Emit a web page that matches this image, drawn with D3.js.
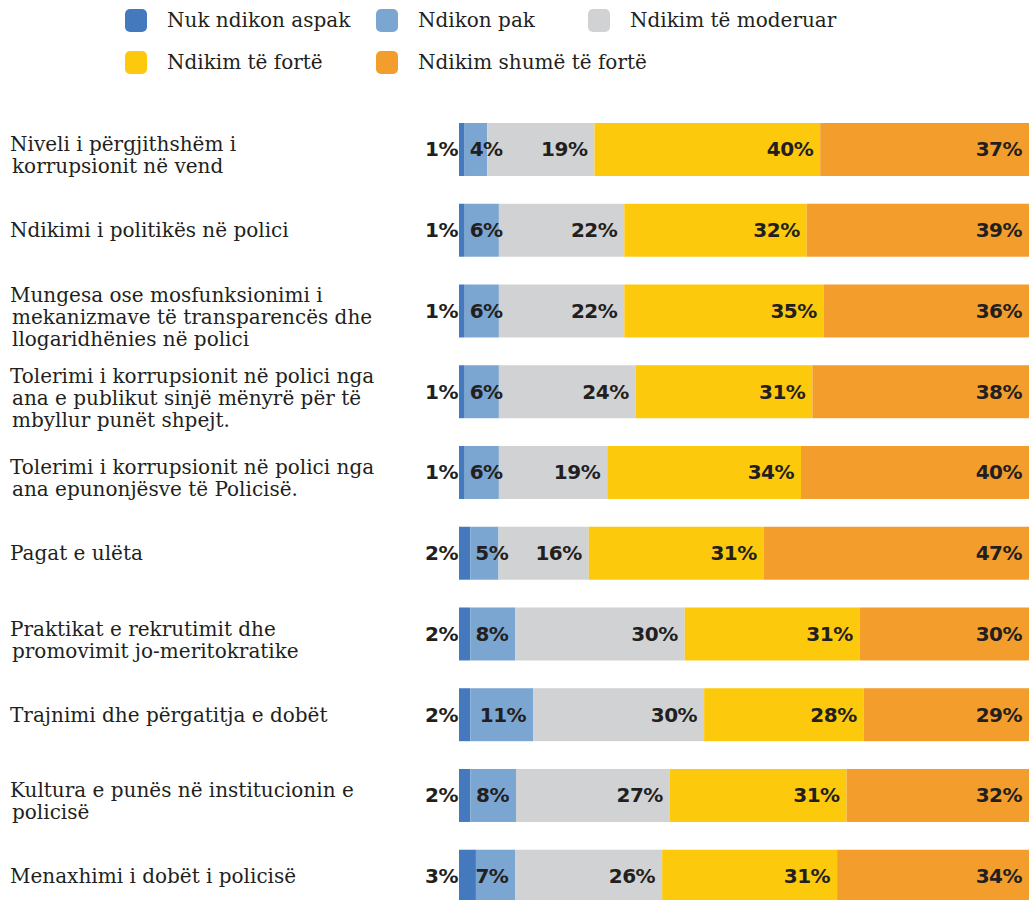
<!DOCTYPE html>
<html><head><meta charset="utf-8">
<script src="https://cdn.jsdelivr.net/npm/d3@7"></script>
<style>body{margin:0;background:#fff}svg{display:block}</style>
</head><body>
<svg id="c" width="1030" height="900"></svg>
<script>
const categories = [
  ["Niveli i përgjithshëm i", "korrupsionit në vend"],
  ["Ndikimi i politikës në polici"],
  ["Mungesa ose mosfunksionimi i", "mekanizmave të transparencës dhe", "llogaridhënies në polici"],
  ["Tolerimi i korrupsionit në polici nga", "ana e publikut sinjë mënyrë për të", "mbyllur punët shpejt."],
  ["Tolerimi i korrupsionit në polici nga", "ana epunonjësve të Policisë."],
  ["Pagat e ulëta"],
  ["Praktikat e rekrutimit dhe", "promovimit jo-meritokratike"],
  ["Trajnimi dhe përgatitja e dobët"],
  ["Kultura e punës në institucionin e", "policisë"],
  ["Menaxhimi i dobët i policisë"]
];
const seriesNames = ["Nuk ndikon aspak", "Ndikon pak", "Ndikim të moderuar", "Ndikim të fortë", "Ndikim shumë të fortë"];
const nukNdikon   = [1, 1, 1, 1, 1, 2, 2, 2, 2, 3];
const ndikonPak   = [4, 6, 6, 6, 6, 5, 8, 11, 8, 7];
const moderuar    = [19, 22, 22, 24, 19, 16, 30, 30, 27, 26];
const forte       = [40, 32, 35, 31, 34, 31, 31, 28, 31, 31];
const shumeForte  = [37, 39, 36, 38, 40, 47, 30, 29, 32, 34];
const colors = ["#4479be", "#7ba6d2", "#d1d2d4", "#fdc90c", "#f39d2c"];

const seriesValues = [nukNdikon, ndikonPak, moderuar, forte, shumeForte];
const keys = seriesNames;
const rows = categories.map((c, i) => {
  const o = {idx: i};
  keys.forEach((k, j) => o[k] = seriesValues[j][i]);
  return o;
});

const svg = d3.select("#c");
const x = d3.scaleLinear().domain([0, 1]).range([459, 1029]);
const y = d3.scaleBand().domain(d3.range(categories.length)).range([123, 902.7]).paddingInner(0.344).paddingOuter(0);
const color = d3.scaleOrdinal().domain(keys).range(colors);

const stack = d3.stack().keys(keys).offset(d3.stackOffsetExpand);
const stacked = stack(rows);

const labelFont = "'DejaVu Serif', serif";
const valFont = "'DejaVu Sans', sans-serif";

// bars
const g = svg.append("g");
stacked.forEach((s, si) => {
  g.selectAll(null).data(s).enter().append("rect")
    .attr("x", d => x(d[0]))
    .attr("y", d => y(d.data.idx))
    .attr("width", d => x(d[1]) - x(d[0]))
    .attr("height", y.bandwidth())
    .attr("fill", color(s.key));
});

// value labels
stacked.forEach((s, si) => {
  s.forEach(d => {
    const x0 = x(d[0]), x1 = x(d[1]);
    const cy = y(d.data.idx) + y.bandwidth() / 2;
    const t = svg.append("text")
      .attr("y", cy + 7)
      .attr("font-family", valFont)
      .attr("font-weight", "bold")
      .attr("font-size", 20)
      .attr("letter-spacing", -0.5)
      .attr("fill", "#231f20")
      .text(d.data[s.key] + "%");
    const w = t.node().getComputedTextLength();
    if (w + 4 <= x1 - x0) {
      t.attr("x", x1 - 7).attr("text-anchor", "end");
    } else if (si === 0) {
      t.attr("x", x0 - 1).attr("text-anchor", "end");
    } else {
      t.attr("x", x0 + 5).attr("text-anchor", "start");
    }
  });
});

// category labels
const lh = 22;
categories.forEach((lines, i) => {
  const cy = y(i) + y.bandwidth() / 2;
  const n = lines.length;
  const off = n > 1 ? 6 : 0;
  const first = cy + off - (n - 1) * lh / 2;
  const t = svg.append("text")
    .attr("font-family", labelFont)
    .attr("font-size", 20)
    .attr("fill", "#231f20");
  lines.forEach((ln, k) => {
    t.append("tspan").attr("x", k === 0 ? 10 : 12).attr("y", first + k * lh + 7).text(ln);
  });
});

// legend
const legendPos = [[125, 20], [376, 20], [588, 20], [125, 62], [376, 62]];
keys.forEach((k, i) => {
  const [lx, ly] = legendPos[i];
  svg.append("rect").attr("x", lx).attr("y", ly - 11).attr("width", 22).attr("height", 23)
    .attr("rx", 5).attr("fill", color(k));
  svg.append("text").attr("x", lx + 42).attr("y", ly + 7)
    .attr("font-family", labelFont).attr("font-size", 20).attr("fill", "#231f20").text(k);
});
</script>
</body></html>
